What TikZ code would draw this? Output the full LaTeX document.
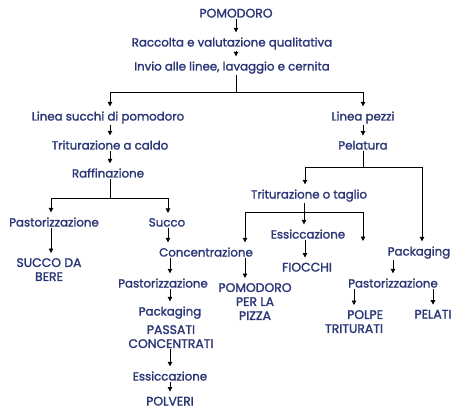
\documentclass[tikz,border=0pt]{standalone}
\usepackage{fontspec}
\setmainfont{Poppins}[FakeBold=1.6]
\usetikzlibrary{arrows.meta,calc}
\definecolor{navy}{RGB}{42,54,118}
\begin{document}
\begin{tikzpicture}[x=1pt,y=-1pt,
  t/.style={font=\fontsize{11.8}{14}\selectfont, text=navy, inner sep=1pt, anchor=base},
  c/.style={t, font=\fontsize{12.4}{14}\selectfont},
  m/.style={font=\fontsize{12.4}{14}\selectfont, text=navy, inner sep=1pt, anchor=north, align=center},
  arr/.style={draw=black, line width=0.8pt, -{Triangle[length=4.5pt,width=4.5pt]}, shorten >=4pt},
  ln/.style={draw=black, line width=0.8pt}]
\useasboundingbox[fill=white] (0,0) rectangle (474,417);
% nodes
\node[c] (pom) at (236,17.5) {POMODORO};
\node[t] (rac) at (232,46.5) {Raccolta e valutazione qualitativa};
\node[t] (inv) at (232,70.5) {Invio alle linee, lavaggio e cernita};
\node[t] (lsp) at (108,120.5) {Linea succhi di pomodoro};
\node[t] (lpz) at (363,120.5) {Linea pezzi};
\node[t] (tac) at (110,149.5) {Triturazione a caldo};
\node[t] (pel) at (363,149.5) {Pelatura};
\node[t] (raf) at (108,177.5) {Raffinazione};
\node[t] (pas1) at (54,226.5) {Pastorizzazione};
\node[t] (suc) at (167,226.5) {Succo};
\node[m] (sdb) at (49,257) {SUCCO DA\\BERE};
\node[t] (con) at (206,256.5) {Concentrazione};
\node[t] (pas2) at (163,287.5) {Pastorizzazione};
\node[t] (pkg1) at (170,315.5) {Packaging};
\node[m] (pcn) at (171,324) {PASSATI\\CONCENTRATI};
\node[t] (ess2) at (170,380.5) {Essiccazione};
\node[c] (pol) at (170,405.5) {POLVERI};
\node[t] (tot) at (309,198.5) {Triturazione o taglio};
\node[t] (ess1) at (308,238.5) {Essiccazione};
\node[c] (fio) at (307,271.5) {FIOCCHI};
\node[m] (ppz) at (255,282) {POMODORO\\PER LA\\PIZZA};
\node[t] (pkg2) at (419,255.5) {Packaging};
\node[t] (pas3) at (393,287.5) {Pastorizzazione};
\node[m, align=right] (ptr) at (354,309) {POLPE\\TRITURATI};
\node[c] (pla) at (433,318.5) {PELATI};
% bus coordinates
\coordinate (b1) at (236,92);
\coordinate (b1l) at (110,92);
\coordinate (b1r) at (363,92);
\coordinate (b2) at (110,198);
\coordinate (b2l) at (51,198);
\coordinate (b2r) at (168,198);
\coordinate (b3) at (363,167);
\coordinate (b3l) at (305,167);
\coordinate (b3r) at (422,167);
\coordinate (b4) at (304,212);
\coordinate (b4l) at (245,212);
\coordinate (b4r) at (363,212);
\coordinate (e4r) at (363,241);
% connectors
\draw[arr] (pom.south) -- (pom.south |- rac.north);
\draw[arr] (pom.south |- rac.south) -- (pom.south |- inv.north);
\draw[ln] (inv.south -| b1) -- (b1);
\draw[arr] (b1) -- (b1l) -- (b1l |- lsp.north);
\draw[arr] (b1) -- (b1r) -- (b1r |- lpz.north);
\draw[arr] (lsp.south -| b1l) -- (b1l |- tac.north);
\draw[arr] (lpz.south -| b1r) -- (b1r |- pel.north);
\draw[arr] (tac.south -| b1l) -- (b1l |- raf.north);
\draw[ln] (raf.south -| b2) -- (b2);
\draw[arr] (b2) -- (b2l) -- (b2l |- pas1.north);
\draw[arr] (b2) -- (b2r) -- (b2r |- suc.north);
\draw[arr] (pas1.south -| b2l) -- (b2l |- sdb.north);
\draw[arr] (suc.south -| b2r) -- (b2r |- con.north);
\draw[arr] (con.south -| pkg1) -- (pkg1 |- pas2.north);
\draw[arr] (pas2.south -| pkg1) -- (pkg1.north);
\draw[arr] (pcn.south -| pkg1) -- (pkg1 |- ess2.north);
\draw[arr] (ess2.south -| pkg1) -- (pkg1 |- pol.north);
\draw[ln] (pel.south -| b3) -- (b3);
\draw[arr] (b3) -- (b3l) -- (b3l |- tot.north);
\draw[arr] (b3) -- (b3r) -- (b3r |- pkg2.north);
\draw[ln] (tot.south -| b4) -- (b4);
\draw[arr] (b4) -- (b4 |- ess1.north);
\draw[arr] (b4) -- (b4l) -- (b4l |- con.north);
\draw[arr, shorten >=0pt] (b4) -- (b4r) -- (e4r);
\draw[arr] (ess1.south -| b3l) -- (b3l |- fio.north);
\draw[arr] (con.south -| b4l) -- (b4l |- ppz.north);
\draw[arr] (pkg2.south -| pas3) -- (pas3.north);
\draw[arr] (pas3.south -| ptr) -- (ptr.north);
\draw[arr] (pas3.south -| pla) -- (pla.north);
\end{tikzpicture}
\end{document}
